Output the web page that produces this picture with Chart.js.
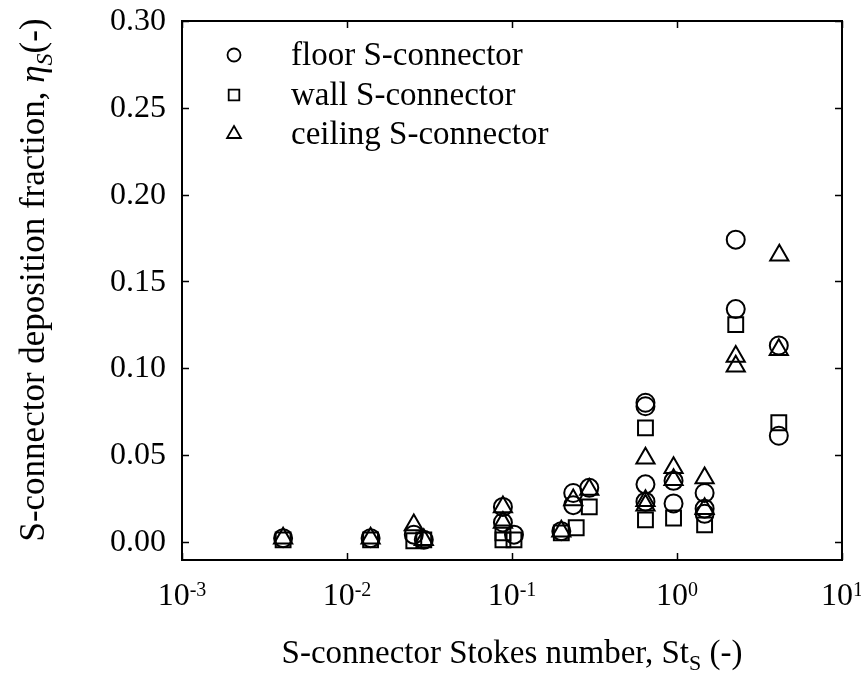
<!DOCTYPE html>
<html><head><meta charset="utf-8">
<script src="https://cdn.jsdelivr.net/npm/chart.js@4/dist/chart.umd.min.js"></script>
<style>html,body{margin:0;padding:0;background:#fff;}canvas{display:block;}</style>
</head><body>
<canvas id="c" width="861" height="680"></canvas>
<script>
// ---- data ----
const seriesLabels = ['floor S-connector', 'wall S-connector', 'ceiling S-connector'];
const seriesStyles = ['circle', 'rect', 'triangle'];

const floorX = [0.0041,0.0139,0.0254,0.0292,0.0881,0.0881,0.1028,0.199,0.235,0.235,0.294,0.644,0.644,0.644,0.644,0.953,0.953,1.47,1.47,1.47,2.27,2.27,4.14,4.14];
const floorY = [0.002,0.002,0.004,0.001,0.020,0.011,0.004,0.006,0.028,0.021,0.031,0.080,0.078,0.033,0.023,0.035,0.022,0.028,0.019,0.016,0.174,0.134,0.113,0.061];

const wallX = [0.0041,0.0139,0.0254,0.0292,0.0881,0.0881,0.1028,0.199,0.245,0.294,0.644,0.644,0.953,1.47,2.27,4.14];
const wallY = [0.001,0.001,0.0005,0.001,0.001,0.005,0.001,0.005,0.008,0.020,0.0655,0.0125,0.0136,0.0096,0.125,0.0685];

const ceilingX = [0.0041,0.0139,0.0254,0.0292,0.0881,0.0881,0.199,0.235,0.294,0.644,0.644,0.644,0.953,0.953,1.47,1.47,2.27,2.27,4.14,4.17];
const ceilingY = [0.002,0.002,0.0095,0.001,0.020,0.011,0.006,0.024,0.030,0.048,0.0235,0.021,0.0425,0.0356,0.0367,0.019,0.1066,0.101,0.1106,0.165];

const yTicks = [0, 0.05, 0.10, 0.15, 0.20, 0.25, 0.30];
const yTickLabels = ['0.00', '0.05', '0.10', '0.15', '0.20', '0.25', '0.30'];
const xTicks = [0.001, 0.01, 0.1, 1, 10];
const xTickBase = '10';
const xTickExponents = ['-3', '-2', '-1', '0', '1'];

const xTitleParts = [['S-connector Stokes number, St', 'n'], ['S', 'sub'], [' (-)', 'n']];
const yTitleParts = [['S-connector deposition fraction, ', 'n'], ['\u03B7', 'it'], ['S', 'subit'], ['(-)', 'n']];

// ---- chart ----
const FAM = '"Liberation Serif","Times New Roman",serif';
const toPts = (xs, ys) => xs.map((x, i) => ({x: x, y: ys[i]}));
const radii = {circle: 9, rect: 10.5, triangle: 10.5};

function mkSet(i, xs, ys) {
  return {
    label: seriesLabels[i],
    data: toPts(xs, ys),
    pointStyle: seriesStyles[i],
    pointRadius: radii[seriesStyles[i]],
    pointHoverRadius: radii[seriesStyles[i]],
    borderColor: '#000',
    backgroundColor: 'rgba(0,0,0,0)',
    pointBorderWidth: 2,
    showLine: false
  };
}

function drawParts(ctx, parts, size, x, y, align, supSize, supRaise) {
  const ss = supSize || Math.round(size * 0.68);
  const fontFor = (k) => {
    if (k === 'n') return size + 'px ' + FAM;
    if (k === 'it') return 'italic ' + size + 'px ' + FAM;
    if (k === 'sub' || k === 'sup') return ss + 'px ' + FAM;
    if (k === 'subit') return 'italic ' + ss + 'px ' + FAM;
  };
  let total = 0;
  const widths = parts.map(p => { ctx.font = fontFor(p[1]); const w = ctx.measureText(p[0]).width; total += w; return w; });
  let cx = align === 'center' ? x - total / 2 : (align === 'right' ? x - total : x);
  ctx.textAlign = 'left';
  ctx.textBaseline = 'alphabetic';
  parts.forEach((p, i) => {
    ctx.font = fontFor(p[1]);
    let dy = 0;
    if (p[1] === 'sub' || p[1] === 'subit') dy = size * 0.22;
    if (p[1] === 'sup') dy = -(supRaise || size * 0.42);
    ctx.fillText(p[0], cx, y + dy);
    cx += widths[i];
  });
}

const framePlugin = {
  id: 'frame',
  afterDraw(chart) {
    const ctx = chart.ctx, a = chart.chartArea;
    const xs = chart.scales.x, ys = chart.scales.y;
    ctx.save();
    ctx.strokeStyle = '#000';
    ctx.fillStyle = '#000';
    ctx.lineWidth = 2;
    ctx.strokeRect(a.left, a.top, a.right - a.left, a.bottom - a.top);
    const tl = 7;
    ctx.beginPath();
    yTicks.forEach(v => {
      const y = Math.round(ys.getPixelForValue(v)) + 0.5;
      ctx.moveTo(a.left, y); ctx.lineTo(a.left + tl, y);
      ctx.moveTo(a.right, y); ctx.lineTo(a.right - tl, y);
    });
    xTicks.forEach(v => {
      const x = Math.round(xs.getPixelForValue(v)) + 0.5;
      ctx.moveTo(x, a.bottom); ctx.lineTo(x, a.bottom - tl);
      ctx.moveTo(x, a.top); ctx.lineTo(x, a.top + tl);
    });
    ctx.lineWidth = 1.5;
    ctx.stroke();

    // y tick labels
    ctx.font = '32px ' + FAM;
    ctx.textAlign = 'right';
    ctx.textBaseline = 'middle';
    yTicks.forEach((v, i) => ctx.fillText(yTickLabels[i], a.left - 16, ys.getPixelForValue(v) + 1));

    // x tick labels
    xTicks.forEach((v, i) => {
      const x = xs.getPixelForValue(v);
      drawParts(ctx, [[xTickBase, 'n'], [xTickExponents[i], 'sup']], 32, x, 605, 'center', 20, 9);
    });

    // axis titles
    drawParts(ctx, xTitleParts, 33, (a.left + a.right) / 2, 663, 'center');
    ctx.save();
    ctx.translate(44, 280);
    ctx.rotate(-Math.PI / 2);
    drawParts(ctx, yTitleParts, 35, 0, 0, 'center');
    ctx.restore();

    // legend
    const rows = [55, 95, 134];
    const symX = 234, txtX = 291;
    const lr = {circle: 6.5, rect: 7.5, triangle: 8};
    seriesLabels.forEach((lab, i) => {
      const st = seriesStyles[i];
      ctx.save();
      ctx.lineWidth = 1.8;
      ctx.strokeStyle = '#000';
      ctx.fillStyle = 'rgba(0,0,0,0)';
      Chart.helpers.drawPoint(ctx, {pointStyle: st, radius: lr[st], borderWidth: 1.8}, symX, rows[i]);
      ctx.restore();
      ctx.fillStyle = '#000';
      ctx.font = '33px ' + FAM;
      ctx.textAlign = 'left';
      ctx.textBaseline = 'middle';
      ctx.fillText(lab, txtX, rows[i] + 1);
    });
    ctx.restore();
  }
};

new Chart(document.getElementById('c'), {
  type: 'scatter',
  data: {
    datasets: [
      mkSet(0, floorX, floorY),
      mkSet(1, wallX, wallY),
      mkSet(2, ceilingX, ceilingY)
    ]
  },
  options: {
    responsive: false,
    devicePixelRatio: 1,
    animation: false,
    layout: {padding: {left: 182, right: 19, top: 21, bottom: 120}},
    plugins: {legend: {display: false}, tooltip: {enabled: false}},
    scales: {
      x: {type: 'logarithmic', min: 0.001, max: 10, display: false},
      y: {type: 'linear', min: -0.0106, max: 0.30, display: false}
    }
  },
  plugins: [framePlugin]
});
</script>
</body></html>
